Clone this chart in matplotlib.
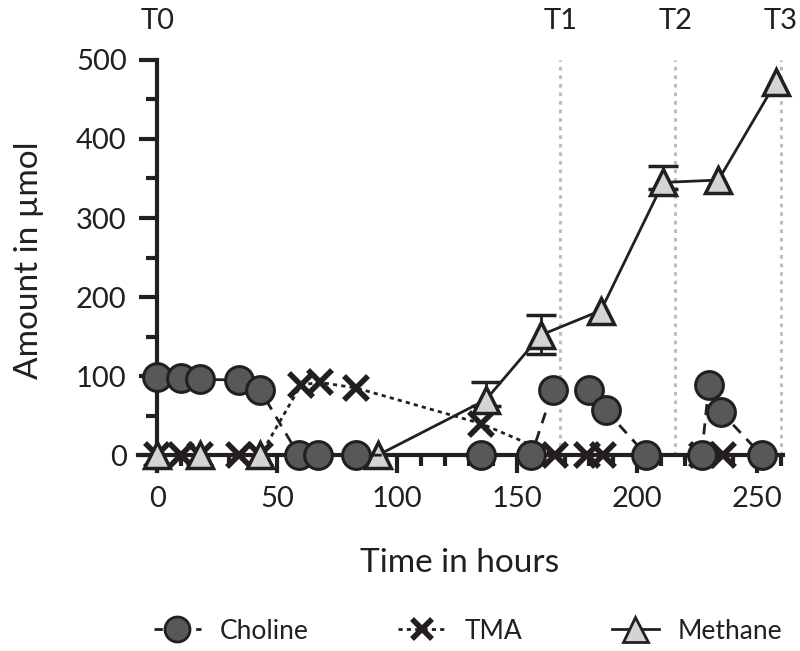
import numpy as np
import matplotlib.pyplot as plt
from matplotlib.lines import Line2D

plt.rcParams['font.family'] = ['Lato', 'DejaVu Sans']

# Choline
choline_t = [0, 10, 18, 34, 43, 59, 67, 83, 135, 156, 165, 180, 187, 204, 227, 230, 235, 252]
choline_y = [99, 97, 96, 95, 82, 0, 0, 0, 0, 0, 82, 82, 57, 0, 0, 89, 55, 0]

# TMA
tma_t = [0, 10, 18, 34, 43, 60, 68, 83, 135, 166, 179, 186, 227, 236]
tma_y = [0, 0, 0, 0, 0, 89, 92, 85, 40, 0, 0, 0, 0, 0]

# Methane
methane_t = [0, 18, 43, 92, 137, 160, 185, 211, 234, 258]
methane_y = [0, 0, 0, 0, 70, 152, 183, 345, 348, 472]

# Methane error bars (only where visible)
err_t = [137, 160, 211]
err_y = [70, 152, 345]
err_lo = [8, 24, 8]
err_hi = [22, 25, 21]

# sampling time points
t_labels = ['T0', 'T1', 'T2', 'T3']
t_pos = [0, 168, 216, 260]

dark = '#231f20'

fig = plt.figure(figsize=(8, 6.51), dpi=100)
ax = fig.add_axes([0.1725, 0.2765, 0.8065, 0.6315])

# dotted guide lines for T1..T3
for x in t_pos[1:]:
    ax.plot([x, x], [0, 500], color='#bdbdbd', lw=2.2, ls=(0, (1.2, 1.6)), zorder=1)
for lab, x in zip(t_labels, t_pos):
    ax.text(x, 1.0 + 0.095, lab, transform=ax.get_xaxis_transform(), ha='center', va='center',
            fontsize=21, color=dark)

# TMA
ax.plot(tma_t, tma_y, ls=(0, (1.5, 1.5)), lw=2, color=dark, marker='x', ms=17,
        mew=4, mec=dark, zorder=3, clip_on=False)

# Methane
ax.errorbar(err_t, err_y, yerr=[err_lo, err_hi], fmt='none',
            ecolor=dark, elinewidth=2, capsize=11, capthick=2.5, zorder=4)
ax.plot(methane_t, methane_y, ls='-', lw=2, color=dark, marker='^', ms=19,
        mfc='#d4d4d4', mec=dark, mew=2.5, zorder=4, clip_on=False)

# Choline
ax.plot(choline_t, choline_y, ls=(0, (4, 3)), lw=2, color=dark, marker='o', ms=20,
        mfc='#58585a', mec=dark, mew=2.2, zorder=5, clip_on=False)

ax.set_xlim(-8, 261)
ax.set_ylim(-20, 500)

ax.spines['top'].set_visible(False)
ax.spines['right'].set_visible(False)
ax.spines['left'].set_position(('data', 0))
ax.spines['bottom'].set_position(('data', 0))
for s in ['left', 'bottom']:
    ax.spines[s].set_linewidth(3)
    ax.spines[s].set_color(dark)
    ax.spines[s].set_zorder(2)

ax.set_xticks([0, 50, 100, 150, 200, 250])
ax.set_xticks(np.arange(0, 261, 10), minor=True)
ax.set_yticks([0, 100, 200, 300, 400, 500])
ax.set_yticks([50, 150, 250, 350, 450], minor=True)
ax.tick_params(which='major', length=13, width=3, color=dark, labelsize=21, labelcolor=dark)
ax.tick_params(which='minor', length=8, width=3, color=dark)
ax.tick_params(axis='x', which='major', pad=9)
ax.tick_params(axis='y', which='major', pad=9)

fig.text(0.575, 0.135, 'Time in hours', ha='center', va='center', fontsize=24, color=dark)
fig.text(0.036, 0.6, 'Amount in µmol', ha='center', va='center', rotation=90,
         fontsize=24, color=dark)

handles = [
    Line2D([], [], ls=(0, (3, 2)), lw=2, color=dark, marker='o', ms=18, mfc='#58585a', mec=dark, mew=2),
    Line2D([], [], ls=(0, (1.5, 1.5)), lw=2, color=dark, marker='x', ms=15, mew=4, mec=dark),
    Line2D([], [], ls='-', lw=2, color=dark, marker='^', ms=18, mfc='#d4d4d4', mec=dark, mew=2),
]
fig.legend(handles, ['Choline', 'TMA', 'Methane'], loc='lower center', bbox_to_anchor=(0.585, -0.025),
           ncol=3, frameon=False, fontsize=19, handlelength=1.8, columnspacing=3.4,
           handletextpad=0.7, labelcolor=dark)

plt.savefig('out.png', dpi=100)
